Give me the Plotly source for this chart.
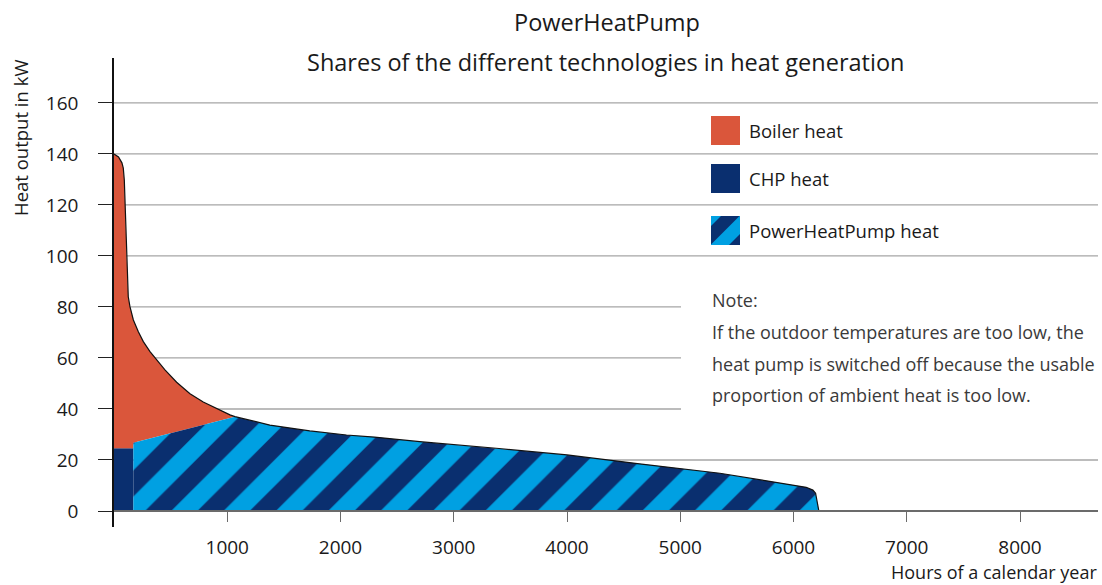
import plotly.graph_objects as go

# ---------------- data ----------------
hours_total = [0, 40, 70, 82, 91, 112, 126, 141, 171, 215, 259, 318, 376, 450, 553, 671,
               788, 906, 1024, 1068, 1376, 1729, 2053, 2300, 2700, 3400, 4000, 4640,
               5350, 6112, 6171, 6195, 6210, 6222, 6224]
total_kw = [140, 138.8, 136.5, 134.4, 129.8, 99.7, 84, 80.1, 74.9, 70.3, 66.4, 62.5, 59.2,
            55.3, 50.5, 46.0, 42.7, 40.1, 37.7, 37, 33.7, 31.4, 29.8, 29, 27.2, 24.5, 22,
            18.5, 14.8, 9.3, 8.2, 7.0, 4.0, 1.0, 0]
chp_hours = [0, 171]
chp_kw = [24.6, 24.6]
php_low_hours = [171, 1068]
php_low_kw = [26.8, 37]

y_ticks = [0, 20, 40, 60, 80, 100, 120, 140, 160]
x_ticks = [1000, 2000, 3000, 4000, 5000, 6000, 7000, 8000]
legend_labels = ["Boiler heat", "CHP heat", "PowerHeatPump heat"]
note_lines = ["Note:",
              "If the outdoor temperatures are too low, the",
              "heat pump is switched off because the usable",
              "proportion of ambient heat is too low."]
title_lines = ["PowerHeatPump", "Shares of the different technologies in heat generation"]

# ---------------- styles ----------------
BOILER = "#da563b"
NAVY = "#0a2f6f"
LIGHT = "#00a0e2"
FONT = "Open Sans"
TXT = "#1a1a1a"

FW, FH = 1102, 585
X0, X1, YT, YB = 114, 1098, 58, 527   # plot area in page pixels
PX_PER_HOUR = 906 / 8000


def px(v):
    return (v - X0) / (X1 - X0)


def py(v):
    return (YB - v) / (YB - YT)


fig = go.Figure()

k = hours_total.index(php_low_hours[-1])

# CHP block
cx = [chp_hours[0], chp_hours[0], chp_hours[1], chp_hours[1]]
cy = [0, chp_kw[0], chp_kw[1], 0]
fig.add_trace(go.Scatter(x=cx, y=cy, fill="toself", fillcolor=NAVY, mode="lines",
                         line=dict(width=0, color=NAVY), hoverinfo="skip", showlegend=False))

# Boiler area
bx = [chp_hours[0]] + hours_total[:k + 1] + php_low_hours[::-1] + [chp_hours[1], chp_hours[0]]
by = [chp_kw[0]] + total_kw[:k + 1] + php_low_kw[::-1] + [chp_kw[1], chp_kw[0]]
fig.add_trace(go.Scatter(x=bx, y=by, fill="toself", fillcolor=BOILER, mode="lines",
                         line=dict(width=0, color=BOILER), hoverinfo="skip", showlegend=False))

# PowerHeatPump area (hatched)
hx = php_low_hours + hours_total[k + 1:] + [hours_total[-1], php_low_hours[0]]
hy = php_low_kw + total_kw[k + 1:] + [0, 0]
fig.add_trace(go.Scatter(x=hx, y=hy, fill="toself", fillcolor=NAVY, mode="lines",
                         line=dict(width=0, color=NAVY),
                         fillpattern=dict(shape="/", bgcolor=NAVY, fgcolor=LIGHT,
                                          size=37, solidity=0.5, fillmode="replace"),
                         hoverinfo="skip", showlegend=False))

# outline of the total curve
fig.add_trace(go.Scatter(x=hours_total, y=total_kw, mode="lines",
                         line=dict(width=1.2, color="#111111"), hoverinfo="skip",
                         showlegend=False))

shapes = []
for v in y_ticks[1:]:
    x_end = 1.0 if (v >= 100 or v == 20) else px(681)
    shapes.append(dict(type="line", xref="paper", yref="y", x0=0, x1=x_end, y0=v, y1=v,
                       line=dict(color="#a6a6a6", width=1.3), layer="below"))

# legend squares
sq = 29
lx = 711
ly = [116, 164, 216]
for yy, col in zip(ly, [BOILER, NAVY, NAVY]):
    shapes.append(dict(type="rect", xref="paper", yref="paper", x0=px(lx), x1=px(lx + sq),
                       y0=py(yy + sq), y1=py(yy), fillcolor=col, line=dict(width=0)))


def clip(poly, d, keep_ge):
    out = []
    n = len(poly)
    for i in range(n):
        a = poly[i]
        b = poly[(i + 1) % n]
        fa = a[0] + a[1] - d
        fb = b[0] + b[1] - d
        ina = fa >= 0 if keep_ge else fa <= 0
        inb = fb >= 0 if keep_ge else fb <= 0
        if ina:
            out.append(a)
        if ina != inb:
            t = fa / (fa - fb)
            out.append((a[0] + t * (b[0] - a[0]), a[1] + t * (b[1] - a[1])))
    return out


square = [(0, 0), (sq, 0), (sq, sq), (0, sq)]
for d1, d2 in [(-1, 10), (28.5, 47)]:
    poly = clip(clip(square, d1, True), d2, False)
    if len(poly) >= 3:
        path = "M " + " L ".join(f"{px(lx + p[0]):.5f},{py(ly[2] + p[1]):.5f}" for p in poly) + " Z"
        shapes.append(dict(type="path", xref="paper", yref="paper", path=path,
                           fillcolor=LIGHT, line=dict(width=0)))

annotations = []
annotations.append(dict(text=title_lines[0], xref="paper", yref="paper", x=px(607), y=py(22),
                        showarrow=False, xanchor="center", yanchor="middle",
                        font=dict(family=FONT, size=23.5, color=TXT)))
annotations.append(dict(text=title_lines[1], xref="paper", yref="paper", x=px(605), y=py(62),
                        showarrow=False, xanchor="center", yanchor="middle",
                        font=dict(family=FONT, size=23.5, color=TXT)))
for lab, yy in zip(legend_labels, ly):
    annotations.append(dict(text=lab, xref="paper", yref="paper", x=px(747), y=py(yy + 14.5),
                            showarrow=False, xanchor="left", yanchor="middle",
                            font=dict(family=FONT, size=18.5, color=TXT)))
for i, line in enumerate(note_lines):
    annotations.append(dict(text=line, xref="paper", yref="paper", x=px(710), y=py(300 + 31.8 * i),
                            showarrow=False, xanchor="left", yanchor="middle",
                            font=dict(family=FONT, size=18, color="#3a3a3a")))
annotations.append(dict(text="Heat output in kW", xref="paper", yref="paper", x=px(20), y=py(138),
                        showarrow=False, textangle=-90, xanchor="center", yanchor="middle",
                        font=dict(family=FONT, size=18.5, color=TXT)))
annotations.append(dict(text="Hours of a calendar year", xref="paper", yref="paper", x=px(1099), y=py(572),
                        showarrow=False, xanchor="right", yanchor="middle",
                        font=dict(family=FONT, size=18, color=TXT)))

y_lo, y_hi = -6.27, 177.6
fig.update_layout(
    width=FW, height=FH,
    margin=dict(l=X0, r=FW - X1, t=YT, b=FH - YB),
    paper_bgcolor="white", plot_bgcolor="white",
    font=dict(family=FONT, color=TXT),
    shapes=shapes, annotations=annotations,
    xaxis=dict(range=[0, (X1 - X0) / PX_PER_HOUR], tickvals=x_ticks, ticks="outside", ticklen=10,
               tickwidth=1.3, tickcolor="#6b6b6b", showline=True, linecolor="#6b6b6b",
               linewidth=1.5, showgrid=False, zeroline=False, anchor="free",
               position=(0 - y_lo) / (y_hi - y_lo), ticklabelstandoff=9,
               tickfont=dict(family=FONT, size=19, color=TXT)),
    yaxis=dict(range=[y_lo, y_hi], tickvals=y_ticks, ticks="outside", ticklen=14,
               tickwidth=1.3, tickcolor="#222222", showline=True, linecolor="#111111",
               linewidth=1.5, showgrid=False, zeroline=False, ticklabelstandoff=16,
               tickfont=dict(family=FONT, size=19, color=TXT)),
)

fig.write_html("out.html", config={"displayModeBar": False},
               post_script="document.body.style.margin='0';document.body.style.overflow='hidden';")
